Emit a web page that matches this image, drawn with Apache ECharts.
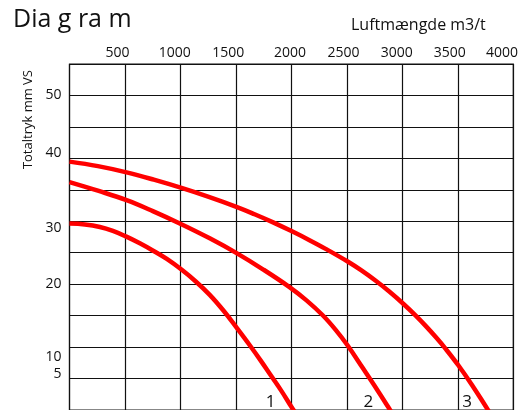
<!DOCTYPE html>
<html>
<head>
<meta charset="utf-8">
<script src="https://cdn.jsdelivr.net/npm/echarts@6/dist/echarts.min.js"></script>
<style>
  html, body { margin: 0; padding: 0; background: #fff; }
  #main { width: 521px; height: 410px; }
</style>
</head>
<body>
<div id="main"></div>
<script>
// Luftmængde (m3/t) langs x, y i "rækker" af 5 (gitter er jævnt)
const xLabelText = ['500', '1000', '1500', '2000', '2500', '3000', '3500', '4000'];
const xLabelPos = [432, 949, 1430, 1987, 2469, 2950, 3428, 3898];
const yLabelText = ['50', '40', '30', '20', '10', '5'];
const yLabelPos = [50, 40.9, 29, 20, 8.4, 5.7];

// kurve 1, 2, 3
const curve1 = [[0, 29.65], [139, 29.50], [274, 29.10], [391, 28.47], [508, 27.60], [634, 26.50], [754, 25.32], [877, 24.01], [1009, 22.32],
  [1138, 20.43], [1264, 18.30], [1389, 15.77], [1506, 13.09], [1623, 10.33], [1722, 7.89], [1817, 5.44], [1911, 3.00], [2001, 0.47], [2037, -0.47]];
const curve2 = [[0, 36.23], [256, 34.86], [514, 33.36], [751, 31.62], [994, 29.65], [1264, 27.29], [1506, 24.94], [1743, 22.37], [1983, 19.54],
  [2136, 17.43], [2282, 15.06], [2397, 12.78], [2507, 10.25], [2642, 6.70], [2777, 3.11], [2867, 0.63], [2900, -0.32]];
const curve3 = [[0, 39.48], [256, 38.77], [514, 37.78], [760, 36.61], [1009, 35.30], [1255, 33.88], [1504, 32.30], [1668, 31.12], [1830, 29.87],
  [2010, 28.36], [2163, 26.99], [2313, 25.57], [2507, 23.60], [2631, 22.18], [2763, 20.50], [2882, 18.83], [3008, 16.89], [3116, 15.08],
  [3212, 13.33], [3305, 11.51], [3392, 9.68], [3506, 7.07], [3629, 3.94], [3755, 0.47], [3791, -0.55]];
const curveNames = ['1', '2', '3'];
const curveNamePos = [[1812, 1.3], [2693, 1.2], [3584, 1.2]];

function nearest(pos, txt, v) {
  let best = 0;
  for (let i = 1; i < pos.length; i++) {
    if (Math.abs(pos[i] - v) < Math.abs(pos[best] - v)) best = i;
  }
  return txt[best];
}

const font = 'Open Sans';
const chart = echarts.init(document.getElementById('main'));

function lineSeries(name, data, idx) {
  return {
    name: name,
    type: 'line',
    data: data,
    smooth: 0.4,
    symbol: 'none',
    clip: true,
    lineStyle: { color: '#ff0000', width: 4.5 },
    markPoint: {
      symbol: 'circle',
      symbolSize: 0,
      data: [{ coord: curveNamePos[idx], value: name }],
      label: { show: true, position: 'inside', formatter: name, color: '#111', fontSize: 17, fontFamily: font }
    },
    z: 3
  };
}

chart.setOption({
  animation: false,
  title: [
    { text: 'Dia g ra m', left: 8, top: 2, textStyle: { fontSize: 25, fontWeight: 'normal', color: '#111', fontFamily: font } },
    { text: 'Luftmængde m3/t', left: 346, top: 12, textStyle: { fontSize: 16, fontWeight: 'normal', color: '#111', fontFamily: font } }
  ],
  graphic: [
    {
      type: 'text', left: 22, top: 70, rotation: Math.PI / 2,
      style: { text: 'Totaltryk mm VS', fontSize: 13, fill: '#111', fontFamily: font }
    }
  ],
  grid: { left: 69.5, right: 6.7, top: 64, bottom: -3, show: true, borderColor: '#111', borderWidth: 1.2 },
  xAxis: {
    type: 'value', position: 'top', min: 0, max: 4000, interval: 500,
    axisLine: { show: false }, axisTick: { show: false },
    splitLine: { show: true, lineStyle: { color: '#111', width: 1.2 } },
    axisLabel: {
      customValues: xLabelPos, margin: 4, color: '#111', fontSize: 14, fontFamily: font,
      formatter: function (v) { return nearest(xLabelPos, xLabelText, v); }
    }
  },
  yAxis: {
    type: 'value', min: 0, max: 55, interval: 5,
    axisLine: { show: false }, axisTick: { show: false },
    splitLine: { show: true, lineStyle: { color: '#111', width: 1.2 } },
    axisLabel: {
      customValues: yLabelPos, margin: 8, color: '#111', fontSize: 14, fontFamily: font,
      formatter: function (v) { return nearest(yLabelPos, yLabelText, v); }
    }
  },
  series: [
    lineSeries(curveNames[0], curve1, 0),
    lineSeries(curveNames[1], curve2, 1),
    lineSeries(curveNames[2], curve3, 2)
  ]
});
</script>
</body>
</html>
